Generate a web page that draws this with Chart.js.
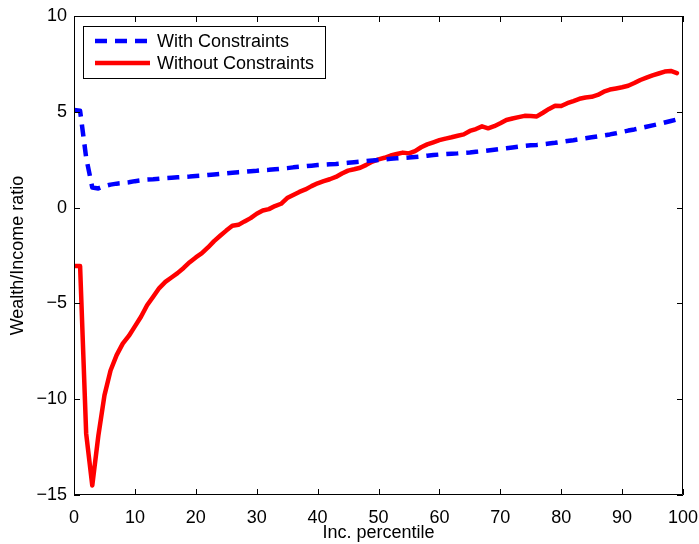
<!DOCTYPE html>
<html>
<head>
<meta charset="utf-8">
<script src="https://cdn.jsdelivr.net/npm/chart.js@4"></script>
<style>
  body { margin: 0; background: #fff; }
  #wrap { width: 699px; height: 544px; }
</style>
</head>
<body>
<div id="wrap"><canvas id="ratioChart" width="699" height="544"></canvas></div>
<script>
const percentiles = Array.from({ length: 100 }, (_, i) => i);

const withConstraints = [
  5.1, 5.05, 2.6, 1.05, 1.0, 1.12, 1.2, 1.25, 1.28, 1.32,
  1.38, 1.42, 1.46, 1.48, 1.51, 1.54, 1.56, 1.58, 1.6, 1.62,
  1.65, 1.67, 1.7, 1.73, 1.76, 1.79, 1.82, 1.85, 1.87, 1.9,
  1.92, 1.95, 1.97, 2.0, 2.03, 2.06, 2.1, 2.13, 2.16, 2.19,
  2.22, 2.24, 2.26, 2.28, 2.31, 2.34, 2.37, 2.4, 2.43, 2.46,
  2.49, 2.52, 2.55, 2.57, 2.59, 2.61, 2.64, 2.67, 2.71, 2.74,
  2.77, 2.79, 2.81, 2.83, 2.86, 2.88, 2.91, 2.94, 2.98, 3.02,
  3.06, 3.1, 3.14, 3.18, 3.22, 3.25, 3.27, 3.3, 3.34, 3.38,
  3.43, 3.48, 3.52, 3.57, 3.62, 3.67, 3.72, 3.77, 3.82, 3.88,
  3.95, 4.02, 4.08, 4.15, 4.22, 4.29, 4.36, 4.44, 4.52, 4.6
];

const withoutConstraints = [
  -3.05, -3.05, -11.8, -14.5, -11.9, -9.8, -8.5, -7.7, -7.1, -6.7,
  -6.2, -5.7, -5.1, -4.65, -4.2, -3.88, -3.65, -3.42, -3.15, -2.85,
  -2.6, -2.38, -2.08, -1.75, -1.47, -1.2, -0.95, -0.9, -0.72, -0.55,
  -0.32, -0.15, -0.08, 0.08, 0.2, 0.5, 0.66, 0.82, 0.95, 1.12,
  1.27, 1.38, 1.48, 1.6, 1.78, 1.93, 2.0, 2.08, 2.23, 2.4,
  2.52, 2.6, 2.72, 2.8, 2.87, 2.83, 2.95, 3.15, 3.3, 3.41,
  3.52, 3.6, 3.67, 3.75, 3.82, 4.0, 4.1, 4.24, 4.14, 4.25,
  4.4, 4.57, 4.65, 4.72, 4.79, 4.78, 4.76, 4.95, 5.15, 5.32,
  5.3, 5.45, 5.56, 5.68, 5.75, 5.78, 5.88, 6.05, 6.16, 6.22,
  6.28, 6.36, 6.5, 6.66, 6.78, 6.9, 7.0, 7.1, 7.13, 7.02
];

const xTicks = [0, 10, 20, 30, 40, 50, 60, 70, 80, 90, 100];
const yTicks = [-15, -10, -5, 0, 5, 10];

const FONT = "'Liberation Sans', Arial, Helvetica, sans-serif";

// box around the plot with short ticks pointing inward on all four sides
const boxTicks = {
  id: "boxTicks",
  afterDraw(chart) {
    const { ctx, chartArea: a, scales } = chart;
    const len = 6;
    ctx.save();
    ctx.strokeStyle = "#000";
    ctx.lineWidth = 1;
    ctx.beginPath();
    ctx.rect(a.left + 0.5, a.top + 0.5, a.right - a.left - 1, a.bottom - a.top - 1);
    xTicks.forEach((v) => {
      const px = Math.round(scales.x.getPixelForValue(v)) + 0.5;
      ctx.moveTo(px, a.bottom);
      ctx.lineTo(px, a.bottom - len);
      ctx.moveTo(px, a.top);
      ctx.lineTo(px, a.top + len);
    });
    yTicks.forEach((v) => {
      const py = Math.round(scales.y.getPixelForValue(v)) + 0.5;
      ctx.moveTo(a.left, py);
      ctx.lineTo(a.left + len, py);
      ctx.moveTo(a.right, py);
      ctx.lineTo(a.right - len, py);
    });
    ctx.stroke();
    ctx.restore();
  },
};

// legend box in the upper left corner of the plot
const cornerLegend = {
  id: "cornerLegend",
  afterDraw(chart) {
    const { ctx } = chart;
    const box = { x: 83.5, y: 26.5, w: 242, h: 52 };
    ctx.save();
    ctx.fillStyle = "#fff";
    ctx.fillRect(box.x, box.y, box.w, box.h);
    ctx.strokeStyle = "#000";
    ctx.lineWidth = 1;
    ctx.strokeRect(box.x, box.y, box.w, box.h);
    ctx.font = "18px " + FONT;
    ctx.textBaseline = "middle";
    ctx.fillStyle = "#000";
    chart.data.datasets.forEach((ds, i) => {
      const cy = 41 + i * 22;
      ctx.beginPath();
      ctx.strokeStyle = ds.borderColor;
      ctx.lineWidth = ds.borderWidth;
      ctx.setLineDash(ds.borderDash || []);
      ctx.moveTo(95, cy);
      ctx.lineTo(150, cy);
      ctx.stroke();
      ctx.setLineDash([]);
      ctx.fillText(ds.label, 157, cy + 1);
    });
    ctx.restore();
  },
};

const ctx = document.getElementById("ratioChart").getContext("2d");
const ratioChart = new Chart(ctx, {
  type: "line",
  data: {
    labels: percentiles,
    datasets: [
      {
        label: "With Constraints",
        data: percentiles.map((x, i) => ({ x: x, y: withConstraints[i] })),
        borderColor: "#0000ff",
        borderWidth: 4.5,
        borderDash: [12, 8],
        borderJoinStyle: "round",
        pointRadius: 0,
        tension: 0,
        fill: false,
      },
      {
        label: "Without Constraints",
        data: percentiles.map((x, i) => ({ x: x, y: withoutConstraints[i] })),
        borderColor: "#ff0000",
        borderWidth: 4.5,
        borderJoinStyle: "round",
        borderCapStyle: "round",
        pointRadius: 0,
        tension: 0,
        fill: false,
      },
    ],
  },
  options: {
    responsive: false,
    animation: false,
    devicePixelRatio: 1,
    layout: { padding: { top: 16, right: 16, left: 0, bottom: 0 } },
    plugins: {
      legend: { display: false },
      tooltip: { enabled: false },
    },
    scales: {
      x: {
        type: "linear",
        min: 0,
        max: 100,
        afterFit: (scale) => {
          scale.height = 49;
          scale.paddingLeft = 0;
          scale.paddingRight = 0;
        },
        afterBuildTicks: (scale) => { scale.ticks = xTicks.map((v) => ({ value: v })); },
        grid: { display: false, drawTicks: false },
        border: { display: false },
        ticks: {
          color: "#000",
          font: { family: FONT, size: 18 },
          padding: 12,
          maxRotation: 0,
        },
        title: {
          display: true,
          text: "Inc. percentile",
          color: "#000",
          font: { family: FONT, size: 18 },
          padding: { top: 0, bottom: 0 },
        },
      },
      y: {
        min: -15,
        max: 10,
        afterFit: (scale) => {
          scale.width = 74;
          scale.paddingTop = 0;
          scale.paddingBottom = 0;
        },
        afterBuildTicks: (scale) => { scale.ticks = yTicks.map((v) => ({ value: v })); },
        grid: { display: false, drawTicks: false },
        border: { display: false },
        ticks: {
          color: "#000",
          font: { family: FONT, size: 18 },
          padding: 7,
          callback: (v) => String(v).replace("-", "\u2212"),
        },
        title: {
          display: true,
          text: "Wealth/Income ratio",
          color: "#000",
          font: { family: FONT, size: 18 },
          padding: { top: 7, bottom: 0 },
        },
      },
    },
  },
  plugins: [boxTicks, cornerLegend],
});
</script>
</body>
</html>
